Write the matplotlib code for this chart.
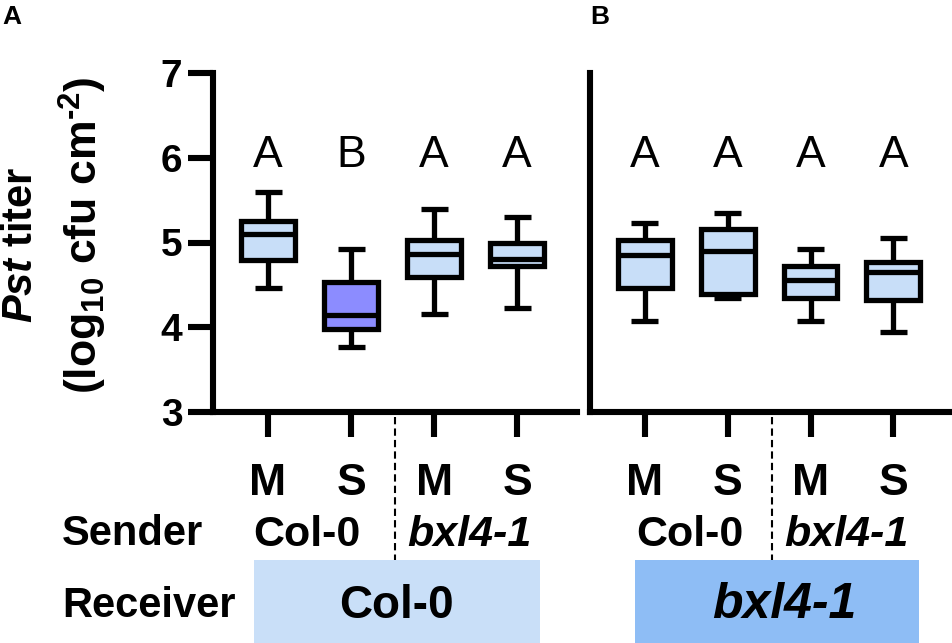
import matplotlib
matplotlib.use('Agg')
import matplotlib.pyplot as plt
from matplotlib import transforms
from matplotlib.patches import Rectangle
from matplotlib.lines import Line2D

plt.rcParams['font.family'] = ['Liberation Sans', 'DejaVu Sans']
plt.rcParams['mathtext.fontset'] = 'custom'
plt.rcParams['mathtext.rm'] = 'Liberation Sans'
plt.rcParams['mathtext.bf'] = 'Liberation Sans:bold'
plt.rcParams['mathtext.it'] = 'Liberation Sans:italic'
plt.rcParams['mathtext.bfit'] = 'Liberation Sans:italic:bold'

# ---------------- data ----------------
sender_tissue = ['M', 'S', 'M', 'S']
sender_genotypes = ['Col-0', 'bxl4-1']
receivers = ['Col-0', 'bxl4-1']
yticks = [3, 4, 5, 6, 7]
ytick_labels = ['3', '4', '5', '6', '7']

# Panel A (receiver Col-0)
a_whislo = [4.46, 3.77, 4.16, 4.23]
a_q1 = [4.79, 3.98, 4.59, 4.72]
a_med = [5.10, 4.15, 4.86, 4.81]
a_q3 = [5.25, 4.53, 5.03, 5.00]
a_whishi = [5.59, 4.92, 5.40, 5.30]
a_letters = ['A', 'B', 'A', 'A']

# Panel B (receiver bxl4-1)
b_whislo = [4.07, 4.34, 4.07, 3.94]
b_q1 = [4.46, 4.39, 4.34, 4.32]
b_med = [4.85, 4.90, 4.56, 4.65]
b_q3 = [5.03, 5.16, 4.72, 4.77]
b_whishi = [5.23, 5.35, 4.92, 5.05]
b_letters = ['A', 'A', 'A', 'A']

LIGHT = '#C8DEF8'
PURPLE = '#8C8CFF'
a_colors = [LIGHT, PURPLE, LIGHT, LIGHT]
b_colors = [LIGHT, LIGHT, LIGHT, LIGHT]
receiver_colors = ['#C9DFF8', '#8EBDF5']

W, H = 953, 643
fig = plt.figure(figsize=(W / 100, H / 100), dpi=100)

def fy(p):
    return 1 - p / H

axA = fig.add_axes([213 / W, fy(412), (577 - 213) / W, 339 / H])
axB = fig.add_axes([590 / W, fy(412), (953 - 590) / W, 339 / H])

LW = 3.8
SLW = 4.4

def draw_panel(ax, lo, q1, med, q3, hi, letters, colors, show_y):
    stats = [dict(med=m, q1=a, q3=b, whislo=l, whishi=h, fliers=[])
             for l, a, m, b, h in zip(lo, q1, med, q3, hi)]
    bp = ax.bxp(stats, positions=list(range(len(stats))), widths=0.65,
                patch_artist=True, showfliers=False, manage_ticks=False,
                boxprops=dict(linewidth=LW, edgecolor='black', joinstyle='miter'),
                whiskerprops=dict(linewidth=LW, color='black', solid_capstyle='butt'),
                capprops=dict(linewidth=LW, color='black', solid_capstyle='butt'),
                medianprops=dict(linewidth=LW, color='black', solid_capstyle='butt'))
    for patch, c in zip(bp['boxes'], colors):
        patch.set_facecolor(c)
    for i, t in enumerate(letters):
        ax.text(i, 5.89, t, ha='center', va='baseline', fontsize=32)
    ax.set_ylim(3, 7)
    ax.set_xlim(-0.663, 3.72)
    for s in ['top', 'right']:
        ax.spines[s].set_visible(False)
    for s in ['left', 'bottom']:
        ax.spines[s].set_linewidth(SLW)
        ax.spines[s].set_capstyle('projecting')
    ax.set_xticks(range(4))
    ax.set_xticklabels([])
    ax.tick_params(axis='x', width=SLW, length=18, direction='out')
    if show_y:
        ax.set_yticks(yticks)
        ax.set_yticklabels(ytick_labels, fontsize=28, fontweight='bold')
        ax.tick_params(axis='y', width=SLW, length=18, direction='out', pad=4)
    else:
        ax.set_yticks([])
    ax.patch.set_alpha(0)

draw_panel(axA, a_whislo, a_q1, a_med, a_q3, a_whishi, a_letters, a_colors, True)
draw_panel(axB, b_whislo, b_q1, b_med, b_q3, b_whishi, b_letters, b_colors, False)

# bottom annotations
def annotate(ax, gen_pos, rec_text, rec_pos, rec_color, box_x0, box_x1, rec_style):
    tr = transforms.blended_transform_factory(ax.transData, fig.transFigure)
    for i, s in enumerate(sender_tissue):
        ax.text(i, fy(495), s, ha='center', va='baseline', fontsize=32,
                fontweight='bold', transform=tr, clip_on=False)
    ax.text(gen_pos[0], fy(546), sender_genotypes[0], ha='center', va='baseline',
            fontsize=31, fontweight='bold', transform=tr, clip_on=False)
    ax.text(gen_pos[1], fy(546), sender_genotypes[1], ha='center', va='baseline',
            fontsize=31, fontweight='bold', style='italic', transform=tr, clip_on=False)
    rect = Rectangle((box_x0, 0), box_x1 - box_x0, fy(560), transform=tr,
                     facecolor=rec_color, edgecolor='none', clip_on=False, zorder=1)
    ax.add_patch(rect)
    ax.text(rec_pos, fy(618), rec_text, ha='center', va='baseline',
            fontsize=33 if rec_style == 'normal' else 36, fontweight='bold',
            style=rec_style, transform=tr, clip_on=False, zorder=3)
    ln = Line2D([1.53, 1.53], [fy(417), fy(560)], transform=tr, color='black',
                lw=1.5, dashes=(3.5, 2), clip_on=False)
    ax.add_line(ln)

annotate(axA, (0.47, 2.42), receivers[0], 1.55, receiver_colors[0], -0.17, 3.28, 'normal')
annotate(axB, (0.54, 2.43), receivers[1], 1.68, receiver_colors[1], -0.12, 3.31, 'italic')

fig.text(62 / W, fy(545), 'Sender', ha='left', va='baseline', fontsize=30, fontweight='bold')
fig.text(62 / W, fy(617), 'Receiver', ha='left', va='baseline', fontsize=30, fontweight='bold')

# y label
fig.text(21 / W, fy(245), r'$\mathbfit{Pst}$ titer', rotation=90, ha='center', va='center',
         fontsize=30, fontweight='bold')
fig.text(83 / W, fy(235), '(log$_{\\mathbf{10}}$ cfu cm$^{\\mathbf{\u2010 2}}$)', rotation=90,
         ha='center', va='center', fontsize=32, fontweight='bold')

# panel labels
fig.text(2 / W, fy(24), 'A', ha='left', va='baseline', fontsize=19, fontweight='bold')
fig.text(590 / W, fy(24), 'B', ha='left', va='baseline', fontsize=19, fontweight='bold')

fig.savefig('out.png', dpi=100)
